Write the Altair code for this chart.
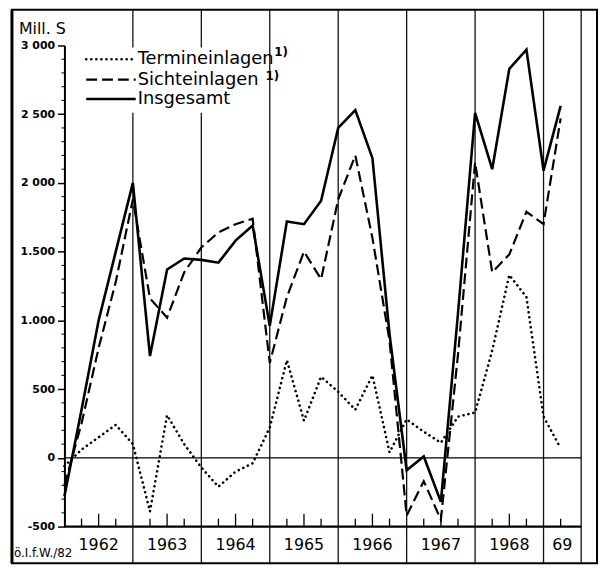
import altair as alt
import pandas as pd

# ---- data (quarter index 0 = end of 1961, 4 = end of 1962, ...) ----
quarters = list(range(30))
insgesamt = [-280, 350, 1000, 1500, 2000, 740, 1370, 1450, 1440, 1420, 1580, 1690, 960,
             1720, 1700, 1870, 2400, 2530, 2180, 900, -90, 10, -320, 1050, 2510, 2100,
             2830, 2970, 2090, 2560]
sicht = [-200, 250, 800, 1280, 1880, 1160, 1020, 1350, 1530, 1640, 1700, 1740, 690,
         1170, 1500, 1300, 1880, 2200, 1600, 850, -420, -170, -450, 750, 2150, 1350,
         1480, 1790, 1700, 2470]
termin = [-60, 60, 150, 240, 100, -390, 310, 100, -70, -210, -100, -40, 220, 710, 270,
          590, 480, 350, 600, 40, 280, 190, 110, 300, 330, 780, 1330, 1170, 300, 70]

year_labels = ["1962", "1963", "1964", "1965", "1966", "1967", "1968", "69"]
year_centers = [2, 6, 10, 14, 18, 22, 26, 29.1]
year_bounds = [4, 8, 12, 16, 20, 24, 28]
plot_right = 30.2
quarter_ticks = [t for t in range(1, 30) if t % 4 != 0]
y_ticks = [-500, 0, 500, 1000, 1500, 2000, 2500, 3000]
y_tick_labels = ["-500", "0", "500", "1.000", "1.500", "2 000", "2 500", "3 000"]
minor_ticks = [v for v in range(-400, 3000, 100) if v % 500 != 0]

series_names = ["Termineinlagen", "Sichteinlagen", "Insgesamt"]

W, H = 522, 486
FONT = "DejaVu Sans"

df = pd.DataFrame({
    "t": quarters * 3,
    "v": termin + sicht + insgesamt,
    "s": [series_names[0]] * 30 + [series_names[1]] * 30 + [series_names[2]] * 30,
})

xs = alt.Scale(domain=[0, plot_right], nice=False, zero=False)
ys = alt.Scale(domain=[-500, 3000], nice=False, zero=False)

expr = "''"
for val, lab in zip(y_ticks, y_tick_labels):
    expr = f"datum.value == {val} ? '{lab}' : ({expr})"

yaxis = alt.Axis(values=y_ticks, labelExpr=expr, title=None, grid=False,
                 tickSize=7, tickWidth=1.5, tickColor="black", domainColor="black",
                 domainWidth=2, labelFont=FONT, labelFontWeight="bold", labelFontSize=11,
                 labelColor="black", labelPadding=3)

X = lambda f: alt.X(f, type="quantitative", scale=xs, axis=None)
Y = lambda f: alt.Y(f, type="quantitative", scale=ys, axis=yaxis)
PY = lambda f: alt.Y(f, type="quantitative", scale=None, axis=None)
PX = lambda f: alt.X(f, type="quantitative", scale=None, axis=None)

one = pd.DataFrame({"a": [0]})

# frame
frame = alt.Chart(one).mark_rect(fillOpacity=0, stroke="black", strokeWidth=2).encode(
    x=alt.value(-53), x2=alt.value(538), y=alt.value(-36), y2=alt.value(523))
frame_left = alt.Chart(one).mark_rule(color="black", strokeWidth=3).encode(
    x=alt.value(-53), y=alt.value(-36), y2=alt.value(523))

# year separators and right edge
seps = alt.Chart(pd.DataFrame({"t": year_bounds + [plot_right]})).mark_rule(
    color="#111", strokeWidth=1.3).encode(
    x=X("t"), y=alt.value(-36), y2=alt.value(523))

# zero line and bottom line
hl = pd.DataFrame({"t0": [0, 0], "t1": [plot_right, plot_right], "v": [0, -500], "w": [1.4, 2.2]})
hlines = alt.Chart(hl).mark_rule(color="black").encode(
    x=X("t0"), x2="t1", y=Y("v"), strokeWidth=alt.StrokeWidth("w:Q", scale=None))

# quarter ticks
qt = pd.DataFrame({"t": quarter_ticks,
                   "len": [13 if t % 4 == 2 else 8 for t in quarter_ticks]})
qticks = alt.Chart(qt).transform_calculate(
    top=f"{H} - datum.len").mark_rule(color="black", strokeWidth=1.3).encode(
    x=X("t"), y=PY("top:Q"), y2=alt.value(H))

# minor y ticks
mticks = alt.Chart(pd.DataFrame({"v": minor_ticks})).mark_rule(
    color="black", strokeWidth=1).encode(
    y=Y("v"), x=alt.value(-3), x2=alt.value(0))

# legend background
legend_bg = alt.Chart(one).mark_rect(fill="white").encode(
    x=alt.value(15), x2=alt.value(200), y=alt.value(2), y2=alt.value(68))

# data lines
line_termin = alt.Chart(df).transform_filter(
    alt.datum.s == series_names[0]).mark_line(
    color="black", strokeWidth=2.6, strokeDash=[0.1, 5], strokeCap="round").encode(
    x=X("t"), y=Y("v"))
line_sicht = alt.Chart(df).transform_filter(
    alt.datum.s == series_names[1]).mark_line(
    color="black", strokeWidth=2.2, strokeDash=[11, 5]).encode(
    x=X("t"), y=Y("v"))
line_total = alt.Chart(df).transform_filter(
    alt.datum.s == series_names[2]).mark_line(
    color="black", strokeWidth=2.6).encode(
    x=X("t"), y=Y("v"))

# legend
rows = [14, 34.5, 54]
leg_t = alt.Chart(one).mark_rule(color="black", strokeWidth=2.6, strokeDash=[0.1, 5],
                                 strokeCap="round").encode(
    x=alt.value(22), x2=alt.value(72), y=alt.value(rows[0]))
leg_s = alt.Chart(one).mark_rule(color="black", strokeWidth=2.2, strokeDash=[11, 5]).encode(
    x=alt.value(22), x2=alt.value(72), y=alt.value(rows[1]))
leg_i = alt.Chart(one).mark_rule(color="black", strokeWidth=2.6).encode(
    x=alt.value(22), x2=alt.value(72), y=alt.value(rows[2]))
leg_text = alt.Chart(pd.DataFrame({"s": series_names, "py": rows})).mark_text(
    align="left", baseline="middle", font=FONT, fontSize=18, color="black").encode(
    x=alt.value(74), y=PY("py:Q"), text="s:N")
sup = alt.Chart(pd.DataFrame({"s": ["1)", "1)"], "px": [212, 203],
                              "py": [rows[0] - 7, rows[1] - 4]})).mark_text(
    align="left", baseline="middle", font=FONT, fontSize=12, fontWeight="bold",
    color="black").encode(
    x=PX("px:Q"), y=PY("py:Q"), text="s:N")

# texts
unit = alt.Chart(one).mark_text(align="left", baseline="middle", font=FONT, fontSize=16,
                                color="black", text="Mill. S").encode(
    x=alt.value(-46), y=alt.value(-17))
source = alt.Chart(one).mark_text(align="left", baseline="middle", font=FONT, fontSize=12,
                                  color="black", text="ö.I.f.W./82").encode(
    x=alt.value(-51), y=alt.value(513))
years = alt.Chart(pd.DataFrame({"t": year_centers, "lab": year_labels})).mark_text(
    align="center", baseline="middle", font=FONT, fontSize=16, color="black").encode(
    x=X("t"), y=alt.value(505), text="lab:N")

chart = alt.layer(
    frame, frame_left, seps, legend_bg, hlines, qticks, mticks,
    line_termin, line_sicht, line_total,
    leg_t, leg_s, leg_i, leg_text, sup, unit, source, years,
).properties(
    width=W, height=H,
    padding={"left": 57, "top": 35, "right": 18, "bottom": 38},
    autosize="none",
    background="white",
).configure_view(strokeWidth=0, stroke="transparent").configure_axis(grid=False)

chart.save("out.html", embed_options={"renderer": "svg", "actions": False})
